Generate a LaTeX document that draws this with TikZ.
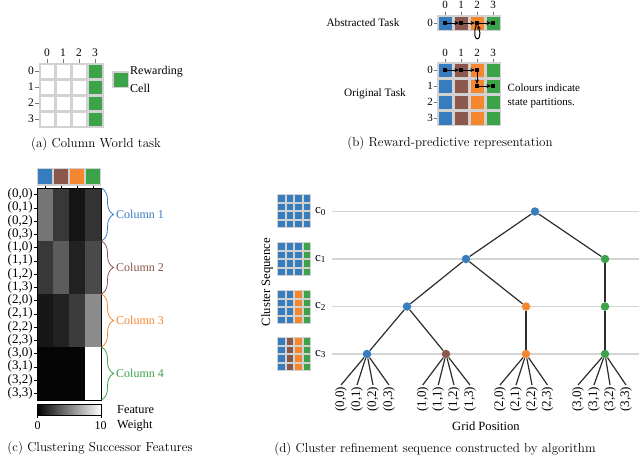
\documentclass[tikz,border=0pt]{standalone}
\usepackage{fontspec}
\newfontfamily\labfont{Liberation Serif}
\usetikzlibrary{decorations.pathreplacing,arrows.meta}
\definecolor{cblue}{RGB}{55,125,190}
\definecolor{cbrown}{RGB}{140,88,78}
\definecolor{corange}{RGB}{245,135,48}
\definecolor{cgreen}{RGB}{60,163,74}
\definecolor{gridgray}{RGB}{210,210,210}
\definecolor{linegray}{RGB}{212,212,212}
\definecolor{edgegray}{RGB}{45,45,45}
\definecolor{tickgray}{RGB}{120,120,120}
\tikzset{
  lab/.style={font=\labfont\fontsize{#1}{#1}\selectfont, inner sep=0pt},
  captext/.style={font=\fontsize{13}{15}\selectfont, inner sep=0pt},
  tickmark/.style={draw=tickgray, line width=0.6pt},
  btick/.style={draw=black, line width=0.6pt},
  mk/.style={rectangle, fill=black, minimum size=3.8pt, inner sep=0pt},
  arr/.style={-{Stealth[length=4.5pt,width=4pt]}, line width=1pt},
  hline/.style={draw=linegray, line width=1.3pt},
  edgeline/.style={draw=edgegray, line width=1.2pt},
  tn/.style={circle, fill=#1, minimum size=8.5pt, inner sep=0pt},
}
\begin{document}
\begin{tikzpicture}[x=1pt,y=-1pt]
\useasboundingbox (0,0) rectangle (640,456);
\fill[white] (0,0) rectangle (640,456);

% ---------------- (a) ----------------
\fill[gridgray] (38.5,62.5) rectangle (103.5,127.5);
\foreach \c/\col in {0/white,1/white,2/white,3/cgreen}
  \foreach \r in {0,1,2,3}
    \fill[\col] ({39+16*\c+1.5},{63+16*\r+1.5}) rectangle ++(13,13);
\foreach \c in {0,1,2,3} {
  \draw[tickmark] ({47+16*\c},59) -- ({47+16*\c},62.5);
  \node[lab=11.5] (acol\c) at ({47+16*\c},53) {\c};
}
\foreach \r in {0,1,2,3} {
  \draw[tickmark] (35,{71+16*\r}) -- (38.5,{71+16*\r});
  \node[lab=11.5] (arow\r) at (31,{71+16*\r}) {\r};
}
\fill[gridgray] (112,71) rectangle (129,88);
\fill[cgreen] (113.5,72.5) rectangle (127.5,86.5);
\node[lab=12, anchor=west] (rew) at (130,72) {Rewarding};
\node[lab=12, anchor=west] (cell) at (130,88.5) {Cell};
\node[captext] (capa) at (96,144) {(a) Column World task};

% ---------------- (b) ----------------
\fill[gridgray] (437,15) rectangle (501,31);
\foreach \c/\col in {0/cblue,1/cbrown,2/corange,3/cgreen}
  \fill[\col] ({437+16*\c+1.5},16.5) rectangle ++(13,13);
\foreach \c in {0,1,2,3} {
  \draw[tickmark] ({445+16*\c},11.5) -- ({445+16*\c},15);
  \node[lab=11] (bac\c) at ({445+16*\c},5) {\c};
}
\draw[tickmark] (433.5,23) -- (437,23);
\node[lab=11] (bar0) at (430,23) {0};

\fill[gridgray] (437,62) rectangle (501,126);
\foreach \c/\col in {0/cblue,1/cbrown,2/corange,3/cgreen}
  \foreach \r in {0,1,2,3}
    \fill[\col] ({437+16*\c+1.5},{62+16*\r+1.5}) rectangle ++(13,13);
\foreach \c in {0,1,2,3} {
  \draw[tickmark] ({445+16*\c},58.5) -- ({445+16*\c},62);
  \node[lab=11] (boc\c) at ({445+16*\c},53) {\c};
}
\foreach \r in {0,1,2,3} {
  \draw[tickmark] (433.5,{70+16*\r}) -- (437,{70+16*\r});
  \node[lab=11] (bor\r) at (430,{70+16*\r}) {\r};
}
% abstract path
\node[mk] (a0) at (445,23) {};
\node[mk] (a1) at (461,23) {};
\node[mk] (a2) at (477,23) {};
\node[mk] (a3) at (493,23) {};
\draw[arr] (a0) -- (a1);
\draw[arr] (a1) -- (a2);
\draw[arr] (a2) -- (a3);
\draw[arr] (a2) .. controls (470,43) and (484,43) .. (a2);
% original path
\node[mk] (o0) at (445,70) {};
\node[mk] (o1) at (461,70) {};
\node[mk] (o2) at (477,70) {};
\node[mk] (o3) at (477,86) {};
\node[mk] (o4) at (493,86) {};
\draw[arr] (o0) -- (o1);
\draw[arr] (o1) -- (o2);
\draw[arr] (o2) -- (o3);
\draw[arr] (o3) -- (o4);
\node[lab=11.3] (abst) at (363,23) {Abstracted Task};
\node[lab=11.3] (orig) at (375,94) {Original Task};
\node[lab=11, anchor=west] (colind) at (507.5,88) {Colours indicate};
\node[lab=11, anchor=west] (statep) at (507.5,103.5) {state partitions.};
\node[captext] (capb) at (450,143.5) {(b) Reward-predictive representation};

% ---------------- (c) ----------------
\fill[gridgray] (36.5,167.5) rectangle (101,185.5);
\foreach \c/\col in {0/cblue,1/cbrown,2/corange,3/cgreen}
  \fill[\col] ({37.7+16*\c},169) rectangle ++(14.6,14.7);
\foreach \c in {0,1,2,3}
  \draw[btick] ({45+16*\c},185.5) -- ({45+16*\c},188);
\foreach \g/\va/\vb/\vc/\vd in {0/46/22/8/20, 1/22/36/13/29, 2/9/13/23/55, 3/2/2/2/100} {
  \fill[white!\va!black] (37,{188+53*\g}) rectangle ++(16,53);
  \fill[white!\vb!black] (53,{188+53*\g}) rectangle ++(16,53);
  \fill[white!\vc!black] (69,{188+53*\g}) rectangle ++(16,53);
  \fill[white!\vd!black] (85,{188+53*\g}) rectangle ++(16,53);
}
\draw[line width=0.8pt] (37,188) rectangle (101,400);
\foreach \g in {0,1,2,3}
  \foreach \k in {0,1,2,3} {
    \draw[btick] (33.5,{194.6+13.25*(4*\g+\k)}) -- (37,{194.6+13.25*(4*\g+\k)});
    \node[lab=13, anchor=east] (r\g\k) at (32.8,{194.6+13.25*(4*\g+\k)}) {(\g,\k)};
  }
\foreach \g/\col/\n in {0/cblue/1,1/cbrown/2,2/corange/3,3/cgreen/4} {
  \draw[\col, line width=0.8pt, decorate, decoration={brace,amplitude=12pt}]
    (101.5,{188+53*\g}) -- (101.5,{241+53*\g});
  \node[lab=12, text=\col, anchor=west] (colm\n) at (116,{214.5+53*\g}) {Column \n};
}
\shade[left color=black, right color=white] (37,404) rectangle (101,415);
\draw[line width=0.8pt] (37,404) rectangle (101,415);
\draw[btick] (37,415) -- (37,418);
\draw[btick] (101,415) -- (101,418);
\node[lab=12] (cb0) at (37.5,425.5) {0};
\node[lab=12] (cb10) at (100.5,425.5) {10};
\node[lab=12.3, anchor=west] (feat) at (117,410) {Feature};
\node[lab=12.3, anchor=west] (weig) at (117,426) {Weight};
\node[captext] (capc) at (100,448) {(c) Clustering Successor Features};

% ---------------- (d) ----------------
\foreach \k/\yy in {0/211.5,1/259,2/306.5,3/354} {
  \draw[hline] (332,\yy) -- (639,\yy);
  \node[lab=13, anchor=base west] (c\k) at (315,{\yy+2}) {c\textsubscript{\k}};
}
\foreach \k/\ca/\cb/\cc/\cd/\yy in {0/cblue/cblue/cblue/cblue/211,1/cblue/cblue/cblue/cgreen/259,2/cblue/cblue/corange/cgreen/307,3/cblue/cbrown/corange/cgreen/354} {
  \fill[gridgray] (277,{\yy-17}) rectangle (311,{\yy+17});
  \foreach \c/\col in {0/\ca,1/\cb,2/\cc,3/\cd}
    \foreach \r in {0,1,2,3}
      \fill[\col] ({277+8.5*\c+1},{\yy-17+8.5*\r+1}) rectangle ++(6.5,6.5);
}
\node[lab=12.7, rotate=90] (clseq) at (267,282) {Cluster Sequence};

\node[tn=cblue] (n0) at (535,211.5) {};
\node[tn=cblue] (n1a) at (466,259) {};
\node[tn=cgreen] (n1b) at (605,259) {};
\node[tn=cblue] (n2a) at (407,306.5) {};
\node[tn=corange] (n2b) at (526,306.5) {};
\node[tn=cgreen] (n2c) at (605,306.5) {};
\node[tn=cblue] (n3a) at (367,354) {};
\node[tn=cbrown] (n3b) at (446,354) {};
\node[tn=corange] (n3c) at (526,354) {};
\node[tn=cgreen] (n3d) at (605,354) {};
\draw[edgeline] (n0) -- (n1a);
\draw[edgeline] (n0) -- (n1b);
\draw[edgeline] (n1a) -- (n2a);
\draw[edgeline] (n1a) -- (n2b);
\draw[edgeline] (n1b) -- (n2c);
\draw[edgeline] (n2a) -- (n3a);
\draw[edgeline] (n2a) -- (n3b);
\draw[edgeline] (n2b) -- (n3c);
\draw[edgeline] (n2c) -- (n3d);
\foreach \g/\p/\xa/\xb/\xc/\xd in {0/n3a/341/357/373/389, 1/n3b/422.7/438.3/454/470, 2/n3c/500/516/532/547.5, 3/n3d/578/594/610/626} {
  \foreach \k/\x in {0/\xa,1/\xb,2/\xc,3/\xd} {
    \node[lab=13, rotate=90, anchor=east, inner sep=1.5pt] (leaf\g\k) at (\x,385) {(\g,\k)};
    \draw[edgeline] (\p) -- (leaf\g\k.east);
  }
}
\node[lab=12.6] (gridpos) at (486,426) {Grid Position};
\node[captext] (capd) at (435,449) {(d) Cluster refinement sequence constructed by algorithm};
\end{tikzpicture}
\end{document}
